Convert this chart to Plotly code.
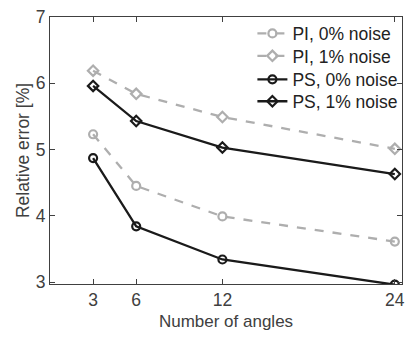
import plotly.graph_objects as go

angles = [3, 6, 12, 24]
pi_0 = [5.23, 4.45, 3.99, 3.61]
pi_1 = [6.19, 5.84, 5.49, 5.01]
ps_0 = [4.87, 3.84, 3.34, 2.96]
ps_1 = [5.96, 5.43, 5.03, 4.63]
names = ["PI, 0% noise", "PI, 1% noise", "PS, 0% noise", "PS, 1% noise"]
x_ticks = [3, 6, 12, 24]
y_ticks = [3, 4, 5, 6, 7]

gray = "#aeaeae"
black = "#1a1a1a"

fig = go.Figure()
series = [
    (pi_0, names[0], gray, "dash", "circle-open"),
    (pi_1, names[1], gray, "dash", "diamond-open"),
    (ps_0, names[2], black, "solid", "circle-open"),
    (ps_1, names[3], black, "solid", "diamond-open"),
]
legend_ids = ["legend", "legend2", "legend3", "legend4"]
legend_y = [0.938, 0.854, 0.766, 0.684]
for (ys, nm, col, dash, sym), lid in zip(series, legend_ids):
    fig.add_trace(go.Scatter(
        x=angles, y=ys, name=nm, mode="lines+markers", legend=lid,
        line=dict(color=col, width=2.3, dash=dash),
        marker=dict(symbol=sym, size=8, color=col, line=dict(color=col, width=2.2)),
    ))

axcol = "#404040"
txtcol = "#404040"
legend_common = dict(x=0.575, xanchor="left", yanchor="middle", bgcolor="rgba(0,0,0,0)",
                     font=dict(size=17.5, color="#222222"), itemwidth=30, tracegroupgap=0)
layout_legends = {lid: dict(legend_common, y=ly) for lid, ly in zip(legend_ids, legend_y)}

fig.update_layout(
    width=412, height=338,
    margin=dict(l=50, r=7, t=12, b=54),
    paper_bgcolor="white", plot_bgcolor="white",
    font=dict(family="Liberation Sans, Arial, sans-serif", size=17, color=txtcol),
    showlegend=True,
    **layout_legends,
    xaxis=dict(range=[0, 24.5], tickvals=x_ticks, ticks="inside", ticklen=5,
               showline=True, mirror="ticks", linecolor=axcol, linewidth=1, tickcolor=axcol,
               showgrid=False, zeroline=False,
               title=dict(text="Number of angles", font=dict(size=17, color=txtcol), standoff=6),
               tickfont=dict(size=17.5, color=txtcol)),
    yaxis=dict(range=[2.97, 7], tickvals=y_ticks, ticks="inside", ticklen=5,
               showline=True, mirror="ticks", linecolor=axcol, linewidth=1, tickcolor=axcol,
               showgrid=False, zeroline=False,
               title=dict(text="Relative error [%]", font=dict(size=17.5, color=txtcol), standoff=1),
               tickfont=dict(size=17.5, color=txtcol)),
)
fig.write_html("out.html")
